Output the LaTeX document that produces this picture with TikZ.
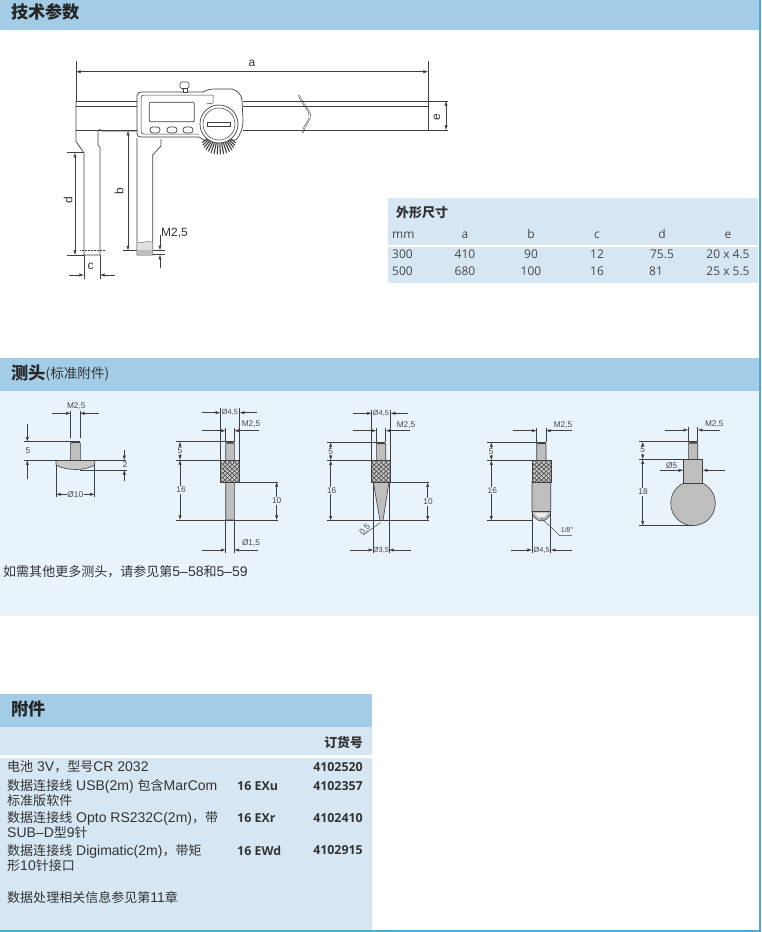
\documentclass[tikz,border=0pt]{standalone}
\usepackage{fontspec}
\setmainfont{Liberation Sans}
\newfontfamily\cjk{Noto Sans CJK SC}
\newfontfamily\cjkt[Scale=0.93]{Noto Sans CJK SC}
\newfontfamily\tabfont{Open Sans}
\usetikzlibrary{arrows.meta}
\definecolor{headBlue}{HTML}{A3CDE7}
\definecolor{bodyBlue}{HTML}{E8F3FC}
\definecolor{tableBlue}{HTML}{D6E7F3}
\definecolor{edgeBlue}{HTML}{4DAAD9}
\definecolor{lineGray}{HTML}{3F3F3F}
\definecolor{steelGray}{HTML}{BEBEBE}
\definecolor{textGray}{HTML}{333333}
\begin{document}
\begin{tikzpicture}[x=1pt, y=-1pt, font=\tabfont, text=textGray]
	\tikzstyle{headText}=[anchor=west, inner sep=0pt, font=\cjk\bfseries\fontsize{17.2}{19}\selectfont, text=black!85]
	\tikzstyle{tabText}=[anchor=base, inner sep=0pt, font=\tabfont\fontsize{12}{14}\selectfont, text=textGray!90]
	\tikzstyle{accText}=[anchor=west, inner sep=0pt, font=\fontsize{14}{15}\selectfont, text=textGray]
	\tikzstyle{accCode}=[anchor=west, inner sep=0pt, font=\tabfont\bfseries\fontsize{12.4}{14}\selectfont, text=textGray]
	\tikzstyle{accNum}=[anchor=east, inner sep=0pt, font=\tabfont\bfseries\fontsize{12.4}{14}\selectfont, text=textGray]
	\tikzstyle{outline}=[draw=lineGray, line width=0.7pt]
	\tikzstyle{steelPart}=[draw=lineGray, line width=0.6pt, fill=steelGray]
	\tikzstyle{dimLine}=[draw=lineGray, line width=0.45pt]
	\tikzstyle{dimOne}=[dimLine, -{Latex[length=4.6pt,width=3.2pt]}]
	\tikzstyle{dimBoth}=[dimLine, {Latex[length=4.6pt,width=3.2pt]}-{Latex[length=4.6pt,width=3.2pt]}]
	\tikzstyle{bigLabel}=[inner sep=0pt, font=\fontsize{12}{13}\selectfont, text=textGray]
	\tikzstyle{smallLabel}=[inner sep=0.6pt, font=\fontsize{8.3}{9}\selectfont, text=textGray!90]
	\tikzstyle{maskLabel}=[smallLabel, fill=bodyBlue]
	\tikzstyle{gapLabel}=[inner sep=0pt, font=\fontsize{7.4}{8}\selectfont, text=textGray!90]
	\useasboundingbox (0,0) rectangle (761,932);
	% section bands
	\fill[white] (0,0) rectangle (761,932);
	\fill[headBlue] (0,0) rectangle (761,30);
	\fill[headBlue] (0,358) rectangle (761,391);
	\fill[bodyBlue] (0,391) rectangle (761,616);
	\fill[headBlue] (0,694) rectangle (372,727);
	\fill[tableBlue] (0,727) rectangle (372,755);
	\fill[tableBlue] (0,758) rectangle (372,930);
	\fill[tableBlue] (388,198) rectangle (758,283);
	\fill[white] (388,245) rectangle (758,246.5);
	\fill[edgeBlue] (758.5,0) rectangle (761,932);
	\fill[edgeBlue] (0,929.5) rectangle (761,932);
	\node[headText] (headTech) at (11,12) {技术参数};
	\node[headText] (headProbe) at (11,373) {测头};
	\node[anchor=west, inner sep=0pt, font=\cjk\fontsize{13.6}{15}\selectfont] (headStd) at (45.5,374.5) {(标准附件)};
	\node[headText] (headAcc) at (11,709) {附件};
	% size table
	\node[anchor=west, inner sep=0pt, font=\cjk\bfseries\fontsize{13}{14}\selectfont] (tabTitle) at (396,213) {外形尺寸};
	\node[tabText, anchor=base west] (tabMm) at (392,238.5) {mm};
	\node[tabText, anchor=base west] (row1) at (392,258.8) {300};
	\node[tabText, anchor=base west] (row2) at (392,275.5) {500};
	\foreach \colname/\colx/\va/\vb in {a/465/410/680, b/531/90/100, c/597/12/16}{
		\node[tabText] (tab\colname) at (\colx,238.5) {\colname};
		\node[tabText] (tab\colname1) at (\colx,258.8) {\va};
		\node[tabText] (tab\colname2) at (\colx,275.5) {\vb};
	}
	\node[tabText] (tabd) at (662,238.5) {d};
	\node[tabText] (tabd1) at (662,258.8) {75.5};
	\node[tabText, anchor=base west] (tabd2) at (649,275.5) {81};
	\node[tabText] (tabe) at (728,238.5) {e};
	\node[tabText] (tabe1) at (728,258.8) {20 x 4.5};
	\node[tabText] (tabe2) at (728,275.5) {25 x 5.5};
	% caliper beam and jaws
	\draw[outline, line width=0.9pt] (76,101) -- (137,101);
	\draw[outline, line width=0.5pt] (76,106) -- (137,106);
	\draw[outline, line width=0.9pt] (243,101) -- (428,101);
	\draw[outline, line width=0.5pt] (243,106) -- (428,106);
	\draw[outline, line width=1pt] (76,130) -- (137,130);
	\draw[outline, line width=0.9pt] (243,130) -- (428,130);
	\draw[outline] (428,101) -- (428,130);
	\draw[outline] (76,101) -- (76,141.5) -- (84,153) -- (84,255) -- (100,255) -- (100,147) -- (98,145) -- (98,131) .. controls (98,129) and (101,129) .. (102,131) -- (139,131);
	\draw[outline] (137,138) -- (137,255) -- (152.7,255) -- (152.7,155) -- (161,146) -- (161,139);
	\draw[lineGray, line width=0.35pt] (298,95) .. controls (303,107) and (311,112) .. (309,118) .. controls (306,124) and (303,127) .. (302,133);
	\draw[lineGray, line width=0.35pt] (299.5,95) .. controls (304.5,107) and (312.5,112) .. (310.5,118) .. controls (307.5,124) and (304.5,127) .. (303.5,133);
	% jaw tip
	\fill[steelGray!50] (137.5,242) .. controls (143,244) and (147,240) .. (152.3,242) -- (152.3,254.7) -- (137.5,254.7) -- cycle;
	\fill[steelGray] (137.5,250) rectangle (152.3,254.7);
	\draw[lineGray, line width=0.3pt] (137.5,242) .. controls (143,244) and (147,240) .. (152.3,242);
	\draw[lineGray, line width=0.5pt, densely dotted] (80,250.5) -- (105,250.5);
	% caliper body
	\draw[outline, fill=white] (137,96) .. controls (137,93) and (139,92) .. (142,92) -- (203,92) .. controls (207,90) and (210,89) .. (214,89) -- (232,89) .. controls (238,91) and (241,94) .. (242,100) -- (243,120) .. controls (243,128) and (241,134) .. (236,140) -- (204,140) -- (199,137) -- (141,137) .. controls (138,137) and (137,136) .. (137,133) -- cycle;
	\draw[outline, line width=0.5pt] (141,98) .. controls (141,96) and (142,95) .. (144,95) -- (213,95) -- (213,103) -- (206,104);
	\draw[outline, line width=0.5pt] (141,98) -- (141,131) .. controls (141,133) and (142,134) .. (144,134) -- (199,134);
	\draw[outline, fill=white, rounded corners=1pt] (149.3,102.3) rectangle (194.3,121.7);
	\foreach \bx in {155,172,188}{
		\draw[outline, fill=white, rounded corners=2.8pt] ({\bx-5},127) rectangle ({\bx+5},133);
	}
	% knob on top
	\draw[outline, fill=white] (183.5,88.5) rectangle (187,92);
	\draw[outline, fill=white, rounded corners=1.5pt] (180,82) rectangle (189,88.5);
	% knurled wheel
	\foreach \ang in {8,19,...,175}{
		\draw[lineGray, line width=1.1pt] ({219+8*cos(\ang)},{135+6*sin(\ang)}) -- ({219+17*cos(\ang)},{141+13.5*sin(\ang)});
	}
	\draw[outline, fill=white] (219,124) ellipse[x radius=19, y radius=19];
	\draw[outline, line width=0.5pt] (219,124) ellipse[x radius=16, y radius=16];
	\draw[outline, fill=white] (207,122.3) rectangle (230,126.7);
	% caliper dimensions
	\draw[dimLine] (76,61) -- (76,101);
	\draw[dimLine] (428,61) -- (428,101);
	\draw[dimBoth] (76,71.7) -- (428,71.7);
	\node[bigLabel] (dimA) at (252,63) {a};
	\draw[dimLine] (428,101) -- (448,101);
	\draw[dimLine] (428,130) -- (448,130);
	\draw[dimBoth] (446,101) -- (446,130);
	\node[bigLabel, rotate=90] (dimE) at (437,117) {e};
	\draw[dimLine] (67,152.7) -- (84,152.7);
	\draw[dimLine] (67,255) -- (84,255);
	\draw[dimBoth] (75,152.7) -- (75,255);
	\node[bigLabel, rotate=90] (dimD) at (68,200.5) {d};
	\draw[dimLine] (124,130.7) -- (137,130.7);
	\draw[dimLine] (123,250.5) -- (137,250.5);
	\draw[dimBoth] (128,130.7) -- (128,250.5);
	\node[bigLabel, rotate=90] (dimB) at (119,191.5) {b};
	\draw[dimLine] (152.7,250.3) -- (165,250.3);
	\draw[dimLine] (152.7,254.7) -- (165,254.7);
	\draw[dimOne] (160,235) -- (160,250.3);
	\draw[dimOne] (160,267.5) -- (160,254.7);
	\node[bigLabel, anchor=west] (dimM) at (161,233) {M2,5};
	\draw[dimLine] (84,255) -- (84,279);
	\draw[dimLine] (100,255) -- (100,279);
	\draw[dimOne] (69,275) -- (84,275);
	\draw[dimOne] (115,275) -- (100,275);
	\node[bigLabel] (dimC) at (90.7,266.5) {c};
	% flat probe
	\draw[steelPart] (70.3,460.3) -- (70.3,443) .. controls (72,441) and (78.5,441) .. (80.3,443) -- (80.3,460.3) -- cycle;
	\fill[lineGray] (70.5,443.5) .. controls (72,441) and (78.5,441) .. (80.1,443.5) .. controls (78,442.5) and (72,442.5) .. (70.5,443.5) -- cycle;
	\draw[steelPart, fill=steelGray!85] (56,460.3) -- (94.7,460.3) -- (94.7,465) .. controls (85,471) and (66,471) .. (56,465) -- cycle;
	\draw[dimLine] (24,441.7) -- (80,441.7);
	\draw[dimLine] (24,460.3) -- (126,460.3);
	\draw[dimLine] (80,470) -- (126.5,470);
	\draw[dimLine] (70.7,410.7) -- (70.7,438);
	\draw[dimLine] (80,410.7) -- (80,438);
	\draw[dimOne] (52.3,413.3) -- (70.7,413.3);
	\draw[dimOne] (98.7,413.3) -- (80,413.3);
	\node[smallLabel] (flatM) at (76.3,406) {M2,5};
	\draw[dimOne] (27.3,424.3) -- (27.3,441.7);
	\draw[dimOne] (27.3,479) -- (27.3,460.3);
	\node[smallLabel] (flatFive) at (28,450.7) {5};
	\draw[dimOne] (124.3,450) -- (124.3,460.3);
	\draw[dimOne] (124.3,480.7) -- (124.3,470);
	\node[maskLabel] (flatTwo) at (125,465) {2};
	\draw[dimLine] (56,465) -- (56,497);
	\draw[dimLine] (94.7,465) -- (94.7,497);
	\draw[dimBoth] (56,494.3) -- (94.7,494.3);
	\node[maskLabel] (flatDia) at (75.3,494.3) {Ø10};
	% needle probe
	\draw[steelPart] (225.7,443) .. controls (227,441.5) and (233,441.5) .. (234.3,443) -- (234.3,520) -- (225.7,520) -- cycle;
	\fill[lineGray] (225.9,443.5) .. controls (227,441.5) and (233,441.5) .. (234.1,443.5) -- cycle;
	\draw[dimLine] (176,441.7) -- (234,441.7);
	\draw[dimLine] (176,460) -- (220.3,460);
	\draw[dimLine] (176,520) -- (278,520);
	\draw[dimLine] (239.7,482) -- (278,482);
	\draw[dimLine] (220.3,408) -- (220.3,460);
	\draw[dimLine] (239.7,408) -- (239.7,460);
	\draw[dimLine] (225.7,428) -- (225.7,441.7);
	\draw[dimLine] (234.3,428) -- (234.3,441.7);
	\draw[dimLine] (225.7,520) -- (225.7,552.7);
	\draw[dimLine] (234.3,520) -- (234.3,552.7);
	\draw[dimOne] (202,412.7) -- (220.3,412.7);
	\draw[dimOne] (257,412.7) -- (239.7,412.7);
	\node[gapLabel] (needleDia) at (230,412.7) {Ø4,5};
	\draw[dimOne] (202,430.7) -- (225.7,430.7);
	\draw[dimOne] (259,430.7) -- (234.3,430.7);
	\node[smallLabel] (needleM) at (251,424.3) {M2,5};
	\draw[dimBoth] (180,441.7) -- (180,460);
	\node[maskLabel] (needleFive) at (180,450.8) {5};
	\draw[dimBoth] (180,460) -- (180,520);
	\node[maskLabel] (needleLong) at (181,490) {16};
	\draw[dimBoth] (276.7,482) -- (276.7,520);
	\node[maskLabel] (needleTen) at (276.7,501) {10};
	\draw[dimOne] (202.3,550) -- (225.7,550);
	\draw[dimOne] (258,550) -- (234.3,550);
	\node[smallLabel] (needleTip) at (251,543) {Ø1,5};
	% cone probe
	\draw[steelPart] (376.3,443.5) .. controls (378,442) and (384,442) .. (385.7,443.5) -- (385.7,460.3) -- (376.3,460.3) -- cycle;
	\fill[lineGray] (376.5,444) .. controls (378,442) and (384,442) .. (385.5,444) -- cycle;
	\draw[steelPart] (373.3,482) -- (389,482) -- (383,520.5) -- (380,520.5) -- cycle;
	\draw[dimLine] (327,442.3) -- (385,442.3);
	\draw[dimLine] (327,460.3) -- (372,460.3);
	\draw[dimLine] (327,520.7) -- (429.3,520.7);
	\draw[dimLine] (390.7,482.3) -- (429.3,482.3);
	\draw[dimLine] (371.7,410) -- (371.7,460.3);
	\draw[dimLine] (390.7,410) -- (390.7,460.3);
	\draw[dimLine] (376.3,428) -- (376.3,442.3);
	\draw[dimLine] (385.7,428) -- (385.7,442.3);
	\draw[dimLine] (373.3,482) -- (373.3,552.7);
	\draw[dimLine] (389,482) -- (389,552.7);
	\draw[dimOne] (353.3,413.3) -- (371.7,413.3);
	\draw[dimOne] (408.3,413.3) -- (390.7,413.3);
	\node[gapLabel] (coneDia) at (381,413.3) {Ø4,5};
	\draw[dimOne] (353,430.7) -- (376.3,430.7);
	\draw[dimOne] (410,430.7) -- (385.7,430.7);
	\node[smallLabel] (coneM) at (406,425) {M2,5};
	\draw[dimBoth] (330.7,442.3) -- (330.7,460.3);
	\node[maskLabel] (coneFive) at (330.7,451.3) {5};
	\draw[dimBoth] (330.7,460.3) -- (330.7,520.7);
	\node[maskLabel] (coneLong) at (331.7,490.7) {16};
	\draw[dimBoth] (427.7,482.3) -- (427.7,520.7);
	\node[maskLabel] (coneTen) at (428,502) {10};
	\draw[dimLine] (380.5,522.5) -- (363.3,535);
	\node[smallLabel, rotate=45] (coneRad) at (365,530) {0,5};
	\draw[dimOne] (350,550) -- (373.3,550);
	\draw[dimOne] (411,550) -- (389,550);
	\node[gapLabel] (coneTip) at (381,550) {Ø3,5};
	% ball tip probe
	\draw[steelPart] (536.7,443.5) .. controls (538,442) and (545,442) .. (546,443.5) -- (546,460.3) -- (536.7,460.3) -- cycle;
	\fill[lineGray] (536.9,444) .. controls (538,442) and (545,442) .. (545.8,444) -- cycle;
	\draw[steelPart] (532,482) -- (550.7,482) -- (550.7,511.7) .. controls (550.7,516) and (546,521) .. (541.3,521) .. controls (537,521) and (532,516) .. (532,511.7) -- cycle;
	\draw[draw=lineGray, line width=0.6pt] (532,511.7) -- (550.7,511.7);
	\fill[white!70!steelGray] (534.5,513) .. controls (537,519) and (545,519) .. (548,513) -- cycle;
	\draw[dimLine] (487,442.3) -- (546,442.3);
	\draw[dimLine] (487,460.3) -- (532,460.3);
	\draw[dimLine] (487,520.7) -- (532,520.7);
	\draw[dimLine] (536.7,428) -- (536.7,442.3);
	\draw[dimLine] (546,428) -- (546,442.3);
	\draw[dimLine] (532,511.7) -- (532,552.7);
	\draw[dimLine] (550.7,511.7) -- (550.7,552.7);
	\draw[dimOne] (513,430.7) -- (536.7,430.7);
	\draw[dimOne] (572,430.7) -- (546,430.7);
	\node[smallLabel] (ballM) at (563,425) {M2,5};
	\draw[dimBoth] (491.3,442.3) -- (491.3,460.3);
	\node[maskLabel] (ballFive) at (491.3,451.3) {5};
	\draw[dimBoth] (491.3,460.3) -- (491.3,520.7);
	\node[maskLabel] (ballLong) at (492.3,490.7) {16};
	\draw[dimLine] (541,518) -- (560,535.7) -- (572,535.7);
	\node[smallLabel, font=\fontsize{7}{8}\selectfont] (ballRad) at (567,529.5) {1/8″};
	\draw[dimOne] (510.7,550) -- (532,550);
	\draw[dimOne] (572,550) -- (550.7,550);
	\node[gapLabel] (ballDia) at (541.7,550) {Ø4,5};
	% knurled grips
	\foreach \gx/\gy in {220.3/460, 371.7/460.3, 532/460.3}{
		\begin{scope}
			\clip (\gx,\gy) rectangle ++(19,22);
			\fill[lineGray!95!black] (\gx,\gy) rectangle ++(19,22);
			\foreach \gi in {0,...,4}{
				\foreach \gj in {0,...,5}{
					\fill[steelGray!90!white] ({\gx+\gi*4.75},{\gy+\gj*4.4}) circle[radius=1.7];
					\fill[steelGray!90!white] ({\gx+\gi*4.75+2.37},{\gy+\gj*4.4+2.2}) circle[radius=1.7];
				}
			}
		\end{scope}
		\draw[lineGray, line width=0.6pt] (\gx,\gy) rectangle ++(19,22);
	}
	% sphere probe
	\draw[steelPart] (688.3,443) .. controls (690,441.5) and (696,441.5) .. (697.7,443) -- (697.7,459.3) -- (688.3,459.3) -- cycle;
	\fill[lineGray] (688.5,443.5) .. controls (690,441.5) and (696,441.5) .. (697.5,443.5) -- cycle;
	\draw[steelPart] (693,503.3) circle[radius=22.3];
	\draw[steelPart] (683.3,459.3) rectangle (702.7,483.3);
	\draw[dimLine] (639,441.7) -- (697,441.7);
	\draw[dimLine] (639,459.3) -- (683.3,459.3);
	\draw[dimLine] (639,525.7) -- (693,525.7);
	\draw[dimLine] (688.3,427) -- (688.3,441.7);
	\draw[dimLine] (697.7,427) -- (697.7,441.7);
	\draw[dimOne] (665,430) -- (688.3,430);
	\draw[dimOne] (720,430) -- (697.7,430);
	\node[smallLabel] (ballM2) at (714.3,424) {M2,5};
	\draw[dimBoth] (642.7,441.7) -- (642.7,459.3);
	\node[maskLabel] (sphereFive) at (642.7,450) {5};
	\draw[dimBoth] (642.7,459.3) -- (642.7,525.7);
	\node[maskLabel] (sphereLong) at (643,492) {18};
	\draw[dimOne] (660,470.3) -- (683.3,470.3);
	\draw[dimOne] (725.3,470.3) -- (702.7,470.3);
	\node[smallLabel] (sphereDia) at (671.7,465.7) {Ø5};
	% probe note
	\node[accText] (probeNote) at (3,572) {{\cjkt 如需其他更多测头，请参见第}5–58{\cjkt 和}5–59};
	% accessories
	\node[accNum, font=\cjk\bfseries\fontsize{12.8}{14}\selectfont] (orderNo) at (363,742.7) {订货号};
	\node[accText] (accOne) at (7,767) {{\cjkt 电池} 3V{\cjkt ，型号}CR 2032};
	\node[accNum] (numOne) at (363,767) {4102520};
	\node[accText] (accTwo) at (7,786) {{\cjkt 数据连接线} USB(2m) {\cjkt 包含}MarCom};
	\node[accCode] (codeTwo) at (237,786) {16 EXu};
	\node[accNum] (numTwo) at (363,786) {4102357};
	\node[accText] (accTwoB) at (7,800.5) {{\cjkt 标准版软件}};
	\node[accText] (accThree) at (7,818) {{\cjkt 数据连接线} Opto RS232C(2m){\cjkt ，带}};
	\node[accCode] (codeThree) at (237,818) {16 EXr};
	\node[accNum] (numThree) at (363,818) {4102410};
	\node[accText] (accThreeB) at (7,833) {SUB–D{\cjkt 型}9{\cjkt 针}};
	\node[accText] (accFour) at (7,851) {{\cjkt 数据连接线} Digimatic(2m){\cjkt ，带矩}};
	\node[accCode] (codeFour) at (237,851) {16 EWd};
	\node[accNum] (numFour) at (363,850) {4102915};
	\node[accText] (accFourB) at (7,866) {{\cjkt 形}10{\cjkt 针接口}};
	\node[accText] (accFive) at (7,897) {{\cjkt 数据处理相关信息参见第}11{\cjkt 章}};
\end{tikzpicture}
\end{document}
